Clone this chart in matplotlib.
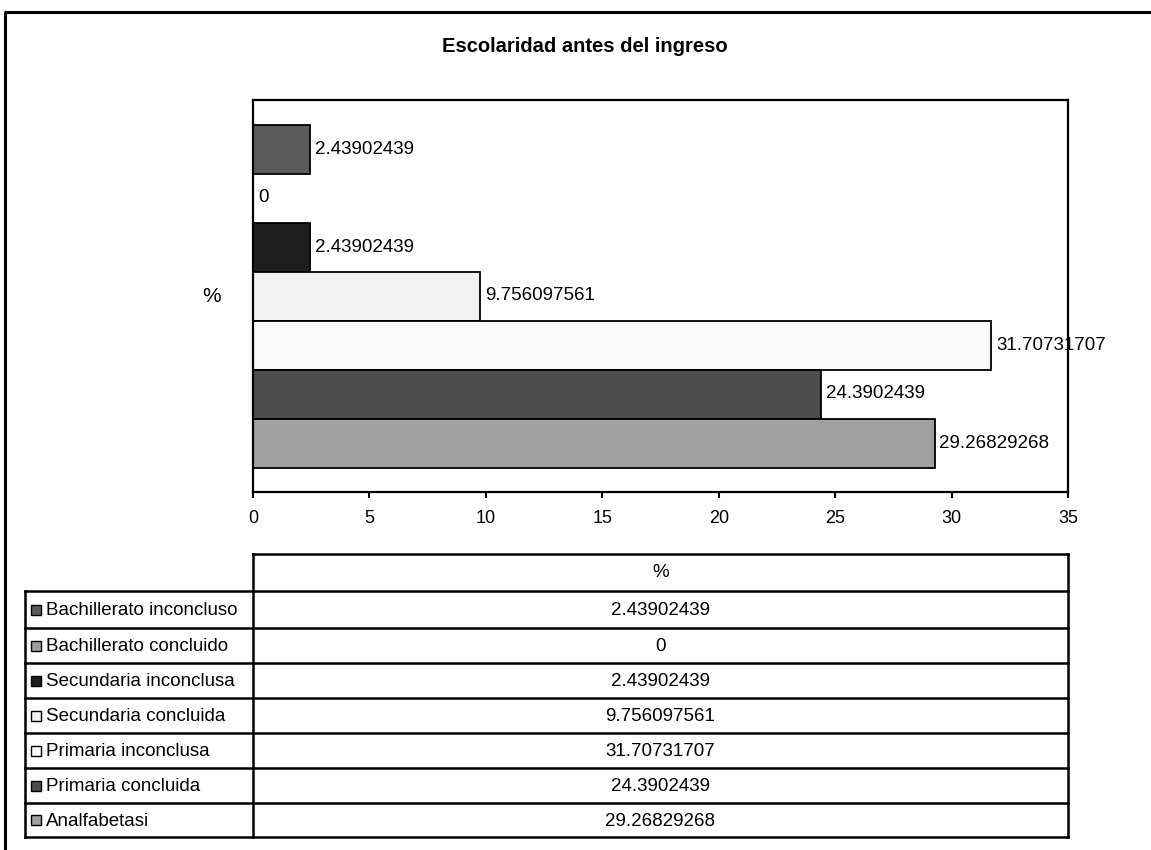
import matplotlib.pyplot as plt
from matplotlib.patches import Rectangle

plt.rcParams['font.family'] = ['Liberation Sans', 'DejaVu Sans']

categorias = ['Bachillerato inconcluso', 'Bachillerato concluido', 'Secundaria inconclusa',
              'Secundaria concluida', 'Primaria inconclusa', 'Primaria concluida', 'Analfabetasi']
porcentajes = [2.43902439, 0, 2.43902439, 9.756097561, 31.70731707, 24.3902439, 29.26829268]
etiquetas = ['2.43902439', '0', '2.43902439', '9.756097561', '31.70731707', '24.3902439', '29.26829268']
colores = ['#5b5b5b', '#a0a0a0', '#1e1e1e', '#f2f2f2', '#fafafa', '#4d4d4d', '#a0a0a0']
xticks = [0, 5, 10, 15, 20, 25, 30, 35]

W, H = 1151, 850
fig = plt.figure(figsize=(W / 100, H / 100), dpi=100)


def px_axes(x0, y0, x1, y1):
    # rectangle in pixels, y measured from the top
    return fig.add_axes([x0 / W, 1 - y1 / H, (x1 - x0) / W, (y1 - y0) / H])


# capa de fondo en pixeles para marco y tabla
capa = fig.add_axes([0, 0, 1, 1])
capa.set_xlim(0, W)
capa.set_ylim(H, 0)
capa.axis('off')

# marco exterior
capa.plot([4, W], [12, 12], color='black', lw=2.2, solid_capstyle='butt')
capa.plot([5, 5], [12, H], color='black', lw=2.2, solid_capstyle='butt')

capa.text(585, 46, 'Escolaridad antes del ingreso', ha='center', va='center',
          fontsize=14.5, fontweight='bold')

# grafico de barras
ax = px_axes(253, 100, 1068, 492)
y = list(range(len(categorias)))
ax.barh(y, porcentajes, height=1.0, color=colores, edgecolor='black', linewidth=1.3)
ax.set_xlim(0, 35)
ax.set_ylim(7, -1)
ax.set_xticks(xticks)
ax.set_xticklabels([str(t) for t in xticks], fontsize=13)
ax.set_yticks([])
ax.tick_params(axis='x', direction='out', length=4, width=1.5, pad=9)
for s in ax.spines.values():
    s.set_linewidth(1.6)
ax.set_ylabel('%', rotation=0, fontsize=15, labelpad=30, va='center')

for yi, v, txt in zip(y, porcentajes, etiquetas):
    ax.annotate(txt, (v, yi), xytext=(3.5, 0), textcoords='offset points',
                va='center', ha='left', fontsize=13.5, annotation_clip=False)

# tabla de datos
col0, col1, col2 = 25, 253, 1068
filas = [591, 628, 663, 698, 733, 768, 803, 837]
lw = 1.8
capa.plot([col1, col2], [554, 554], color='black', lw=lw)
capa.plot([col1, col1], [554, filas[-1]], color='black', lw=lw)
capa.plot([col2, col2], [554, filas[-1]], color='black', lw=lw)
capa.plot([col0, col0], [filas[0], filas[-1]], color='black', lw=lw)
for yl in filas:
    capa.plot([col0, col2], [yl, yl], color='black', lw=lw)
capa.text((col1 + col2) / 2, (554 + filas[0]) / 2, '%', ha='center', va='center', fontsize=13.5)

for i, (cat, txt, c) in enumerate(zip(categorias, etiquetas, colores)):
    yc = (filas[i] + filas[i + 1]) / 2
    capa.add_patch(Rectangle((31, yc - 5), 10, 10, facecolor=c, edgecolor='black', lw=1.0))
    capa.text(46, yc + 1, cat, ha='left', va='center', fontsize=13.5)
    capa.text((col1 + col2) / 2, yc + 1, txt, ha='center', va='center', fontsize=13.5)

fig.savefig('out.png', dpi=100)
